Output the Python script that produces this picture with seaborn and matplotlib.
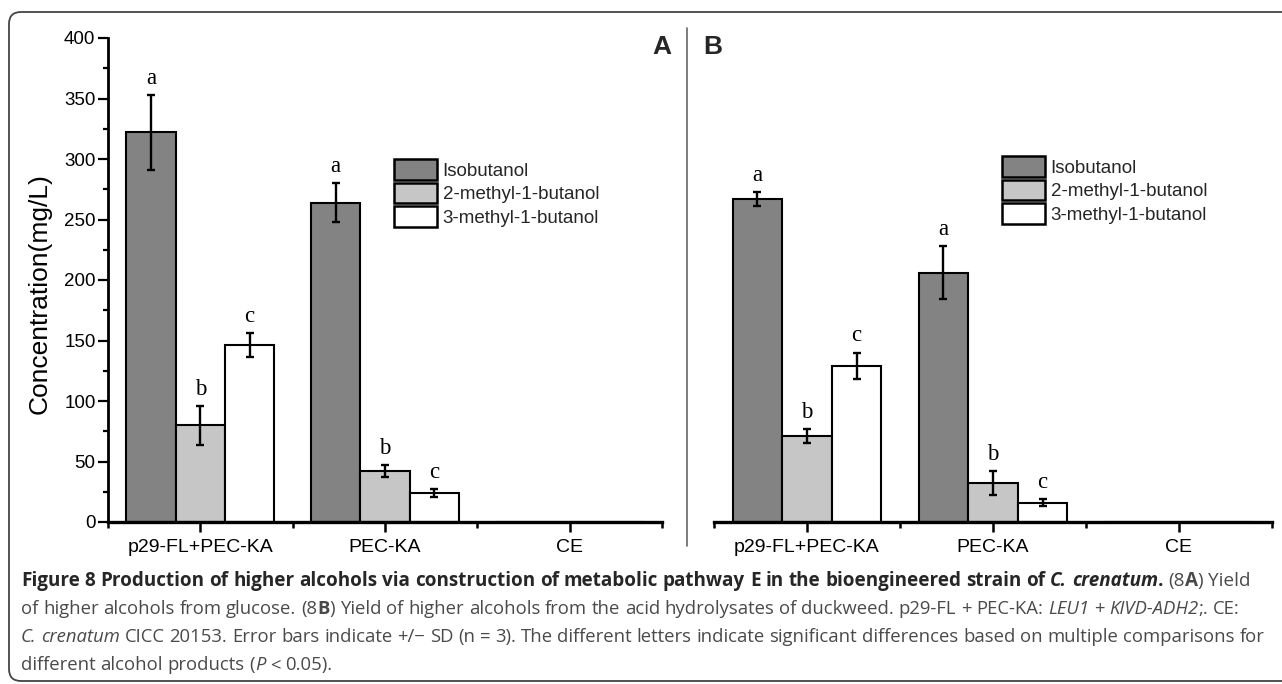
import numpy as np
import pandas as pd
import matplotlib
matplotlib.use("Agg")
import matplotlib.pyplot as plt
import seaborn as sns
from matplotlib.patches import Patch, FancyBboxPatch
from matplotlib.lines import Line2D
from matplotlib.ticker import MultipleLocator, FixedLocator
from matplotlib.transforms import IdentityTransform

# ---------------- data ----------------
strains = ["p29-FL+PEC-KA", "PEC-KA", "CE"]
alcohols = ["Isobutanol", "2-methyl-1-butanol", "3-methyl-1-butanol"]
letters = ["a", "b", "c"]

# Panel A (glucose)
a_iso = [322, 264, 0]
a_iso_sd = [31, 16, 0]
a_2m = [80, 42, 0]
a_2m_sd = [16, 5, 0]
a_3m = [146, 24, 0]
a_3m_sd = [10, 3, 0]

# Panel B (duckweed hydrolysates)
b_iso = [267, 206, 0]
b_iso_sd = [6, 22, 0]
b_2m = [71, 32, 0]
b_2m_sd = [6, 10, 0]
b_3m = [129, 16, 0]
b_3m_sd = [11, 3, 0]

bar_colors = ["#838383", "#c6c6c6", "#ffffff"]

sns.set_style("white")
plt.rcParams["font.family"] = ["Liberation Sans", "DejaVu Sans"]

W, H = 1282, 684
fig = plt.figure(figsize=(W / 100, H / 100), dpi=100)
ident = IdentityTransform()


def fx(px):
    return px / W


def fy(py):
    return 1 - py / H


axA = fig.add_axes([108 / W, (H - 522) / H, 554 / W, 484 / H])
axB = fig.add_axes([714 / W, (H - 522) / H, 558 / W, 484 / H])


def panel(ax, vals, sds, show_y, legend_anchor):
    rows = []
    for k, alc in enumerate(alcohols):
        for j, st in enumerate(strains):
            rows.append({"Strain": st, "Alcohol": alc, "Concentration": vals[k][j]})
    df = pd.DataFrame(rows)
    sns.barplot(data=df, x="Strain", y="Concentration", hue="Alcohol",
                order=strains, hue_order=alcohols, palette=bar_colors,
                saturation=1, edgecolor="black", linewidth=1.5, width=0.8,
                errorbar=None, legend=False, ax=ax)
    bar_conts = list(ax.containers)[:len(alcohols)]
    for k, cont in enumerate(bar_conts):
        for j, bar in enumerate(list(cont.patches)):
            v = bar.get_height()
            sd = sds[k][j]
            if v <= 0:
                continue
            xc = bar.get_x() + bar.get_width() / 2
            ax.errorbar(xc, v, yerr=sd, fmt="none", ecolor="black",
                        elinewidth=1.7, capsize=3.2, capthick=1.7, zorder=5)
            ax.annotate(letters[k], xy=(xc, v + sd), xytext=(0, 8),
                        textcoords="offset points", ha="center", va="baseline",
                        fontsize=16.5, family=["Liberation Serif", "DejaVu Serif"],
                        color="black")
    ax.set_xlim(-0.5, 2.5)
    ax.set_ylim(0, 400)
    ax.set_xlabel("")
    ax.set_ylabel("")
    for s in ["top", "right"]:
        ax.spines[s].set_visible(False)
    ax.spines["bottom"].set_linewidth(2.4)
    ax.spines["bottom"].set_color("black")
    ax.xaxis.set_minor_locator(FixedLocator([-0.5, 0.5, 1.5, 2.5]))
    ax.tick_params(axis="x", which="major", direction="out", length=7, width=1.8,
                   labelsize=14, pad=5, color="black", bottom=True)
    ax.tick_params(axis="x", which="minor", direction="out", length=4, width=1.8,
                   color="black", bottom=True)
    if show_y:
        ax.spines["left"].set_linewidth(2)
        ax.spines["left"].set_color("black")
        ax.set_yticks(np.arange(0, 401, 50))
        ax.yaxis.set_minor_locator(MultipleLocator(25))
        ax.tick_params(axis="y", which="major", direction="out", length=7, width=1.6,
                       labelsize=13.5, pad=2, color="black", left=True)
        ax.tick_params(axis="y", which="minor", direction="out", length=3.5, width=1.6,
                       color="black", left=True)
    else:
        ax.spines["left"].set_visible(False)
        ax.set_yticks([])
    for lab in ax.get_xticklabels() + ax.get_yticklabels():
        lab.set_color("black")
    handles = [Patch(facecolor=c, edgecolor="black", linewidth=1.8, label=a)
               for c, a in zip(bar_colors, alcohols)]
    ax.legend(handles=handles, loc="upper left", bbox_to_anchor=legend_anchor,
              bbox_transform=fig.transFigure, frameon=False, fontsize=13.5,
              handlelength=2.3, handleheight=1.33, labelspacing=0.15,
              handletextpad=0.3, borderpad=0, borderaxespad=0)


panel(axA, [a_iso, a_2m, a_3m], [a_iso_sd, a_2m_sd, a_3m_sd], True, (fx(394), fy(159)))
panel(axB, [b_iso, b_2m, b_3m], [b_iso_sd, b_2m_sd, b_3m_sd], False, (fx(1002), fy(156)))

fig.text(fx(40), fy(294), "Concentration(mg/L)", rotation=90, ha="center", va="center",
         fontsize=19, color="black")

fig.text(fx(662), fy(47), "A", ha="center", va="center", fontsize=19, fontweight="bold")
fig.text(fx(713), fy(47), "B", ha="center", va="center", fontsize=19, fontweight="bold")

fig.add_artist(Line2D([fx(687), fx(687)], [fy(28), fy(546)], transform=fig.transFigure,
                      color="#666666", lw=1.2))

frame = FancyBboxPatch((9, H - 681), 1400, 669,
                       boxstyle="round,pad=0,rounding_size=12",
                       transform=ident, facecolor="none", edgecolor="#444444",
                       lw=1.3, clip_on=False)
fig.add_artist(frame)

# ---------------- caption ----------------
cap_family = ["Open Sans", "DejaVu Sans"]
dark = "#262626"
grey = "#4a4a4a"
renderer = fig.canvas.get_renderer()

line1 = [("Figure 8 Production of higher alcohols via construction of metabolic pathway E in the bioengineered strain of ", "bold", "normal", dark),
         ("C. crenatum", "bold", "italic", dark),
         (". ", "bold", "normal", dark),
         ("(8", "normal", "normal", grey),
         ("A", "bold", "normal", grey),
         (") Yield", "normal", "normal", grey)]
line2 = [("of higher alcohols from glucose. (8", "normal", "normal", grey),
         ("B", "bold", "normal", grey),
         (") Yield of higher alcohols from the acid hydrolysates of duckweed. p29-FL + PEC-KA: ", "normal", "normal", grey),
         ("LEU1", "normal", "italic", grey),
         (" + ", "normal", "normal", grey),
         ("KIVD-ADH2", "normal", "italic", grey),
         (";. CE:", "normal", "normal", grey)]
line3 = [("C. crenatum", "normal", "italic", grey),
         (" CICC 20153. Error bars indicate +/\u2212 SD (n = 3). The different letters indicate significant differences based on multiple comparisons for", "normal", "normal", grey)]
line4 = [("different alcohol products (", "normal", "normal", grey),
         ("P", "normal", "italic", grey),
         (" < 0.05).", "normal", "normal", grey)]


def space_w(weight, style, size):
    t1 = fig.text(0, 0, "a a", fontsize=size, fontweight=weight, fontstyle=style,
                  family=cap_family, transform=ident)
    t2 = fig.text(0, 0, "aa", fontsize=size, fontweight=weight, fontstyle=style,
                  family=cap_family, transform=ident)
    w = t1.get_window_extent(renderer).width - t2.get_window_extent(renderer).width
    t1.remove()
    t2.remove()
    return w


def draw_line(x0, y_base, runs, size, keep=True):
    x = x0
    made = []
    for text, weight, style, color in runs:
        sw = space_w(weight, style, size)
        parts = text.split(" ")
        for i, p in enumerate(parts):
            if i > 0:
                x += sw
            if p:
                t = fig.text(x, H - y_base, p, transform=ident, fontsize=size,
                             fontweight=weight, fontstyle=style, color=color,
                             family=cap_family, ha="left", va="baseline")
                x += t.get_window_extent(renderer).width
                made.append(t)
    if not keep:
        for t in made:
            t.remove()
    return x - x0


x0 = 21
w3 = draw_line(x0, 0, line3, 10, keep=False)
cap_size = 10 * (1262 - x0) / w3
w1 = draw_line(x0, 0, line1, 10, keep=False)
cap_size1 = 10 * (1254 - x0) / w1
sizes = [min(cap_size1, cap_size * 1.04), cap_size, cap_size, cap_size]
for yb, ln, sz in zip([586, 614, 642, 670], [line1, line2, line3, line4], sizes):
    draw_line(x0, yb, ln, sz)

fig.savefig("out.png", dpi=100, facecolor="white")
